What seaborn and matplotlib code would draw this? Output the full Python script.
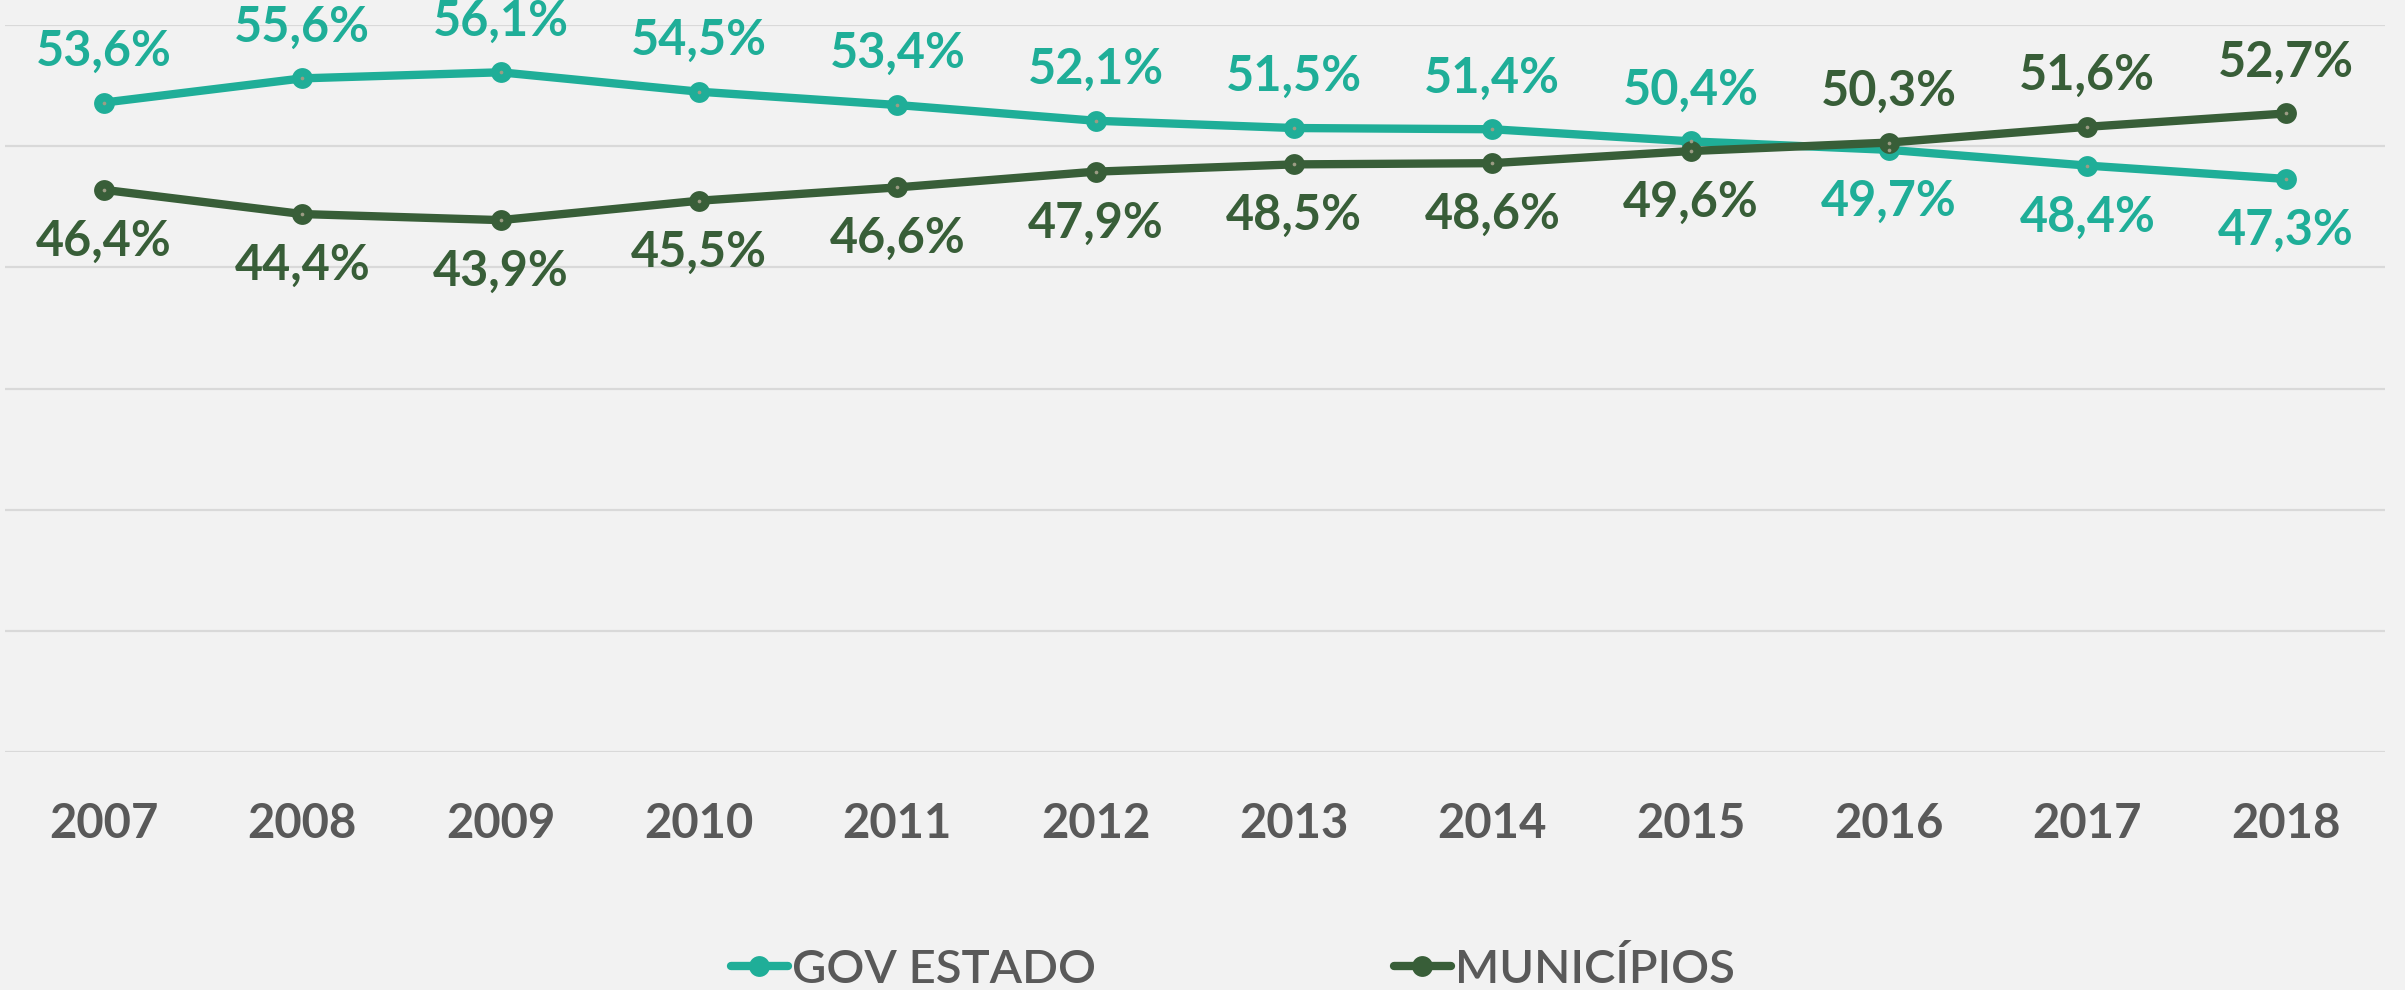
import pandas as pd
import matplotlib
matplotlib.use("Agg")
import matplotlib.pyplot as plt
import seaborn as sns

# Data
years = ["2007", "2008", "2009", "2010", "2011", "2012",
         "2013", "2014", "2015", "2016", "2017", "2018"]
gov_estado = [53.6, 55.6, 56.1, 54.5, 53.4, 52.1, 51.5, 51.4, 50.4, 49.7, 48.4, 47.3]
municipios = [46.4, 44.4, 43.9, 45.5, 46.6, 47.9, 48.5, 48.6, 49.6, 50.3, 51.6, 52.7]
series_names = ["GOV ESTADO", "MUNICÍPIOS"]
colors = {"GOV ESTADO": "#1FAE98", "MUNICÍPIOS": "#385E38"}

df = pd.DataFrame({"ano": years * 2,
                   "valor": gov_estado + municipios,
                   "serie": [series_names[0]] * len(years) + [series_names[1]] * len(years)})

sns.set_theme(style="white")
plt.rcParams["font.family"] = ["Lato", "DejaVu Sans"]

bg = "#F2F2F2"
fig = plt.figure(figsize=(24.05, 9.9), dpi=100, facecolor=bg)
ax = fig.add_axes([0.002, 0.2404, 0.9896, 0.7343])
ax.set_facecolor(bg)

sns.lineplot(data=df, x="ano", y="valor", hue="serie", palette=colors, ax=ax,
             linewidth=6, marker="o", markersize=15, markeredgewidth=0, sort=False)
# small grey centre dot on each marker, like the original
ax.scatter(df["ano"], df["valor"], s=7, color="#9C9C84", zorder=5, linewidths=0)

ax.set_ylim(0, 60)
ax.set_xlim(-0.5, len(years) - 0.5)
ax.set_yticks(range(0, 61, 10))
ax.yaxis.grid(True, color="#D9D9D9", linewidth=1.6)
ax.set_axisbelow(True)
ax.set_yticklabels([])
ax.tick_params(axis="y", length=0)
ax.tick_params(axis="x", length=0, pad=36, labelsize=34, labelcolor="#595959")
for t in ax.get_xticklabels():
    t.set_fontweight("bold")
ax.set_xlabel("")
ax.set_ylabel("")
for s in ax.spines.values():
    s.set_visible(False)

# data labels: higher series above, lower series below
for i, yr in enumerate(years):
    g, m = gov_estado[i], municipios[i]
    for name, v, other in ((series_names[0], g, m), (series_names[1], m, g)):
        dy = 37 if v >= other else -37
        ax.annotate(f"{v:.1f}%".replace(".", ","), (i, v), xytext=(0, dy),
                    textcoords="offset points", ha="center", va="center",
                    fontsize=35, fontweight="bold", color=colors[name])

handles, labels = ax.get_legend_handles_labels()
ax.get_legend().remove()
leg = fig.legend(handles, labels, loc="center", bbox_to_anchor=(0.5127, 0.0212),
                 ncol=2, frameon=False, fontsize=34, handlelength=1.2,
                 handletextpad=0.1, columnspacing=6.3,
                 prop={"size": 34, "weight": "semibold"})
for t in leg.get_texts():
    t.set_color("#595959")

fig.savefig("out.png", dpi=100, facecolor=bg)
